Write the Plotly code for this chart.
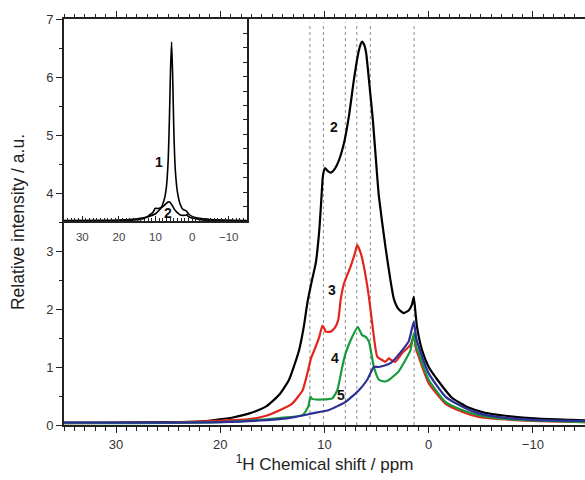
import plotly.graph_objects as go

# 1H MAS NMR spectra, chemical shift in ppm, intensity in a.u.
ppm_2 = [35, 30, 25, 22, 20.4, 18.8, 17.2, 15.6, 14.35, 13.4, 12.44, 12.0, 11.65, 11.2, 10.84, 10.5,
         10.3, 10.15, 9.95, 9.7, 9.4, 9.0, 8.6, 8.13, 7.66, 7.18, 6.76, 6.5, 6.38, 6.2, 6.0,
         5.67, 5.36, 4.94, 4.78, 4.15, 3.35, 2.9, 2.4, 1.9, 1.6, 1.43, 1.25, 1.12, 0.64, 0,
         -0.96, -2.23, -3.83, -5.4, -7.34, -10.5, -13.7, -15]
int_2 = [0.04, 0.04, 0.05, 0.06, 0.09, 0.13, 0.2, 0.32, 0.52, 0.78, 1.29, 1.68, 2.1, 2.5, 2.79, 3.36,
         3.9, 4.3, 4.43, 4.38, 4.35, 4.42, 4.57, 4.86, 5.32, 5.95, 6.41, 6.58, 6.61, 6.56, 6.41,
         5.83, 5.26, 4.28, 3.94, 3.07, 2.18, 2.0, 1.93, 1.98, 2.08, 2.21, 1.9, 1.69, 1.29, 1.0,
         0.75, 0.47, 0.3, 0.21, 0.16, 0.11, 0.09, 0.08]

ppm_3 = [35, 25, 20.4, 17.2, 15.6, 14.35, 13.1, 12.1, 11.5, 11.3, 11.0, 10.5, 10.2, 10.0, 9.9,
         9.4, 9.0, 8.68, 8.45, 8.13, 7.5, 7.1, 6.86, 6.5, 6.22, 5.74, 5.26, 4.94, 4.47, 4.15,
         3.83, 3.6, 3.2, 2.55, 2.07, 1.75, 1.43, 1.2, 0.96, 0, -1.6, -3.2, -4.8, -7, -10, -15]
int_3 = [0.03, 0.04, 0.07, 0.1, 0.16, 0.25, 0.37, 0.6, 1.0, 1.15, 1.28, 1.52, 1.71, 1.66, 1.61,
         1.61, 1.68, 1.81, 2.16, 2.44, 2.73, 2.95, 3.1, 2.95, 2.73, 2.21, 1.52, 1.18, 1.12, 1.09,
         1.15, 1.12, 1.09, 1.24, 1.32, 1.38, 1.52, 1.3, 1.18, 0.72, 0.37, 0.23, 0.14, 0.1, 0.07, 0.05]

ppm_4 = [35, 20, 14.35, 12.1, 11.55, 11.35, 11.2, 10.2, 9.25, 8.77, 8.3, 7.97, 7.34, 6.8, 6.4,
         6.06, 5.74, 5.26, 4.78, 4.14, 3.8, 2.9, 2.23, 1.75, 1.43, 1.2, 0.96, 0, -1.6, -3.2,
         -4.8, -7, -10, -15]
int_4 = [0.03, 0.05, 0.12, 0.17, 0.32, 0.49, 0.45, 0.44, 0.46, 0.6, 1.0, 1.24, 1.52, 1.69, 1.55,
         1.52, 1.44, 1.0, 0.78, 0.75, 0.78, 0.92, 1.12, 1.29, 1.58, 1.35, 1.24, 0.78, 0.4, 0.26,
         0.17, 0.11, 0.08, 0.05]

ppm_5 = [35, 20, 14.35, 12.76, 11.17, 9.57, 7.97, 6.7, 5.9, 5.26, 4.78, 3.83, 3.5, 2.4, 1.9,
         1.43, 1.2, 0.96, 0, -1.6, -3.2, -4.8, -7, -10, -15]
int_5 = [0.04, 0.05, 0.1, 0.14, 0.2, 0.26, 0.4, 0.6, 0.78, 1.0, 1.0, 1.05, 1.09, 1.32, 1.45,
         1.78, 1.5, 1.35, 0.89, 0.49, 0.32, 0.2, 0.13, 0.09, 0.07]

# inset: full-scale spectrum 1 together with spectrum 2
ppm_1 = [35, 25, 20, 15, 12, 10, 8.5, 7.5, 7.0, 6.5, 6.2, 5.9, 5.6, 5.3, 5.0, 4.6, 4.0, 3.3,
         2.5, 1.6, 1.0, 0, -2, -5, -10, -15]
int_1 = [0.15, 0.2, 0.35, 0.8, 1.5, 2.5, 4.5, 8, 12, 22, 35, 52, 62, 50, 32, 18, 10, 6,
         4, 3.5, 2.5, 1.6, 0.9, 0.5, 0.25, 0.15]

ref_lines = [11.4, 10.1, 8.0, 6.9, 5.6, 1.4]

x_ticks = [30, 20, 10, 0, -10]
y_ticks = [0, 1, 2, 3, 4, 5, 6, 7]

AX = "#222222"
FONT = "Liberation Sans, Arial, sans-serif"

fig = go.Figure()

series = [
    (ppm_2, int_2, "#000000", "2"),
    (ppm_3, int_3, "#e3241d", "3"),
    (ppm_4, int_4, "#159a3c", "4"),
    (ppm_5, int_5, "#2b2f96", "5"),
]
for xs, ys, col, name in series:
    fig.add_trace(go.Scatter(x=xs, y=ys, mode="lines", name=name,
                             line=dict(color=col, width=2.2, shape="spline", smoothing=0.5),
                             showlegend=False, xaxis="x", yaxis="y"))

fig.add_trace(go.Scatter(x=ppm_1, y=int_1, mode="lines", name="1",
                         line=dict(color="#000000", width=1.6, shape="spline", smoothing=0.4),
                         showlegend=False, xaxis="x2", yaxis="y2"))
fig.add_trace(go.Scatter(x=ppm_2, y=int_2, mode="lines", name="2",
                         line=dict(color="#000000", width=1.6, shape="spline", smoothing=0.5),
                         showlegend=False, xaxis="x2", yaxis="y2"))

for xv in ref_lines:
    fig.add_shape(type="line", xref="x", yref="y", x0=xv, x1=xv, y0=0, y1=6.94,
                  line=dict(color="#8c8c8c", width=1, dash="dot"), layer="below")

# white backing for the inset frame
fig.add_shape(type="rect", xref="paper", yref="paper", x0=0, x1=0.3512, y0=0.5025, y1=1,
              fillcolor="white", line=dict(width=0), layer="below")

lab = dict(showarrow=False, font=dict(family=FONT, size=14, color="#111111"), xanchor="center",
           yanchor="middle")
fig.add_annotation(x=9.09, y=5.14, xref="x", yref="y", text="<b>2</b>", **lab)
fig.add_annotation(x=9.28, y=2.33, xref="x", yref="y", text="<b>3</b>", **lab)
fig.add_annotation(x=9.0, y=1.16, xref="x", yref="y", text="<b>4</b>", **lab)
fig.add_annotation(x=8.42, y=0.52, xref="x", yref="y", text="<b>5</b>", **lab)
fig.add_annotation(x=9.0, y=20.3, xref="x2", yref="y2", text="<b>1</b>", **lab)
fig.add_annotation(x=6.6, y=2.9, xref="x2", yref="y2", text="<b>2</b>", **lab)

fig.update_layout(
    width=585, height=480,
    margin=dict(l=64, r=0, t=19, b=55),
    paper_bgcolor="white", plot_bgcolor="white",
    font=dict(family=FONT, size=13, color=AX),
    xaxis=dict(
        domain=[0, 1], range=[35, -15], tickvals=x_ticks,
        ticks="outside", ticklen=6, tickwidth=1.4, tickcolor=AX,
        minor=dict(dtick=1, ticks="outside", ticklen=3.5, tickwidth=1.2, tickcolor=AX),
        showline=True, linecolor=AX, linewidth=2, mirror="ticks",
        showgrid=False, zeroline=False,
        tickfont=dict(size=13, color="#333333"),
        title=dict(text="<sup>1</sup>H Chemical shift / ppm", font=dict(size=17, color="#222222"),
                   standoff=7),
    ),
    yaxis=dict(
        domain=[0, 1], range=[0, 7], tickvals=y_ticks,
        ticks="outside", ticklen=6, tickwidth=1.4, tickcolor=AX,
        minor=dict(dtick=0.5, ticks="outside", ticklen=3.5, tickwidth=1.2, tickcolor=AX),
        showline=True, linecolor=AX, linewidth=2,
        showgrid=False, zeroline=False,
        tickfont=dict(size=13, color="#333333"),
        title=dict(text="Relative intensity / a.u.", font=dict(size=17.5, color="#222222"),
                   standoff=17),
    ),
    xaxis2=dict(
        domain=[0, 0.3512], anchor="y2", range=[35, -15], tickvals=x_ticks,
        ticks="inside", ticklen=5, tickwidth=1.2, tickcolor=AX,
        minor=dict(dtick=1, ticks="inside", ticklen=3, tickwidth=1, tickcolor=AX),
        showline=True, linecolor=AX, linewidth=1.8,
        showgrid=False, zeroline=False,
        tickfont=dict(size=11.5, color="#444444"),
        ticklabelstandoff=4,
    ),
    yaxis2=dict(
        domain=[0.5025, 1], anchor="x2", side="right", range=[0, 70], dtick=5,
        ticks="inside", ticklen=4, tickwidth=1.2, tickcolor=AX,
        showticklabels=False,
        showline=True, linecolor=AX, linewidth=1.8,
        showgrid=False, zeroline=False,
    ),
)

fig.write_html("out.html")
